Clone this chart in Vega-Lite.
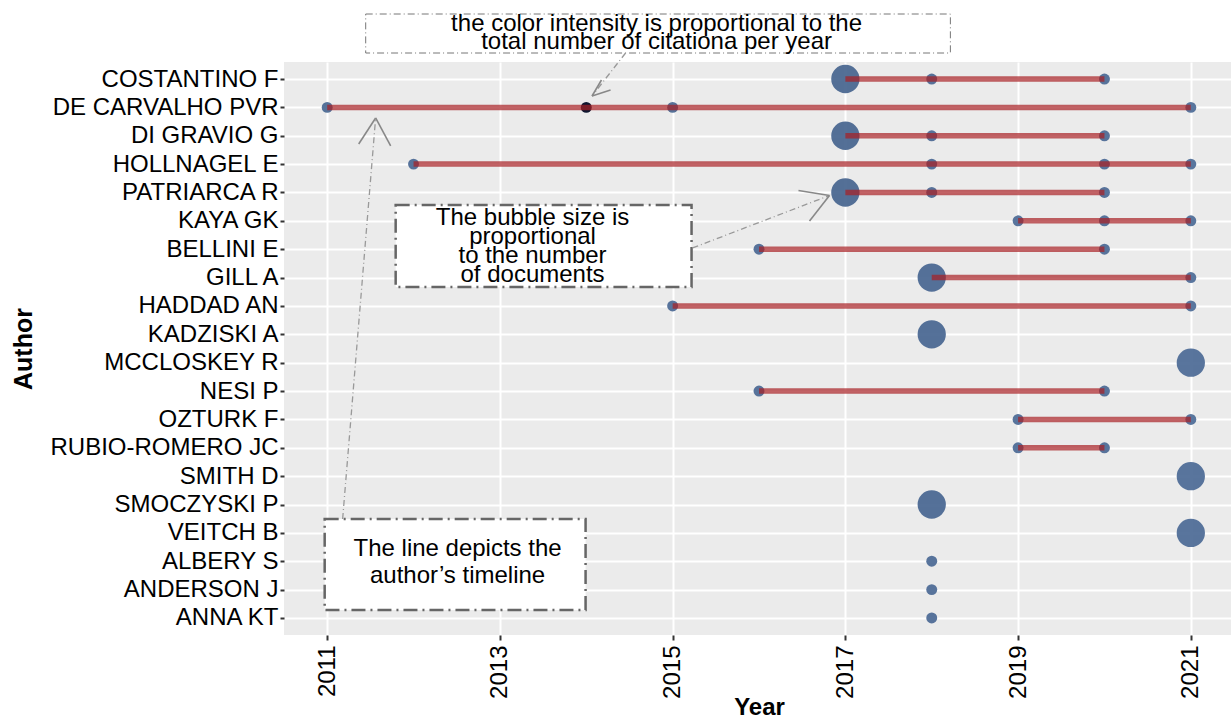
{
  "$schema": "https://vega.github.io/schema/vega-lite/v6.json",
  "autosize": {"type": "none"},
  "width": 950,
  "height": 573,
  "padding": {"left": 284, "top": 62, "right": 0, "bottom": 86},
  "background": "white",
  "config": {
    "view": {"fill": "#EBEBEB", "stroke": null},
    "font": "Liberation Sans",
    "text": {"font": "Liberation Sans"}
  },
  "datasets": {
    "pubs": [
      {"author": "COSTANTINO F", "year": 2017, "docs": 2, "tcpy": 1.2},
      {"author": "COSTANTINO F", "year": 2018, "docs": 1, "tcpy": 0.6},
      {"author": "COSTANTINO F", "year": 2020, "docs": 1, "tcpy": 0.5},
      {"author": "DE CARVALHO PVR", "year": 2011, "docs": 1, "tcpy": 0.8},
      {"author": "DE CARVALHO PVR", "year": 2014, "docs": 1, "tcpy": 14},
      {"author": "DE CARVALHO PVR", "year": 2015, "docs": 1, "tcpy": 0.9},
      {"author": "DE CARVALHO PVR", "year": 2021, "docs": 1, "tcpy": 0.3},
      {"author": "DI GRAVIO G", "year": 2017, "docs": 2, "tcpy": 1.2},
      {"author": "DI GRAVIO G", "year": 2018, "docs": 1, "tcpy": 0.6},
      {"author": "DI GRAVIO G", "year": 2020, "docs": 1, "tcpy": 0.5},
      {"author": "HOLLNAGEL E", "year": 2012, "docs": 1, "tcpy": 0.7},
      {"author": "HOLLNAGEL E", "year": 2018, "docs": 1, "tcpy": 0.6},
      {"author": "HOLLNAGEL E", "year": 2020, "docs": 1, "tcpy": 0.5},
      {"author": "HOLLNAGEL E", "year": 2021, "docs": 1, "tcpy": 0.3},
      {"author": "PATRIARCA R", "year": 2017, "docs": 2, "tcpy": 1.2},
      {"author": "PATRIARCA R", "year": 2018, "docs": 1, "tcpy": 0.6},
      {"author": "PATRIARCA R", "year": 2020, "docs": 1, "tcpy": 0.5},
      {"author": "KAYA GK", "year": 2019, "docs": 1, "tcpy": 0.4},
      {"author": "KAYA GK", "year": 2020, "docs": 1, "tcpy": 0.5},
      {"author": "KAYA GK", "year": 2021, "docs": 1, "tcpy": 0.3},
      {"author": "BELLINI E", "year": 2016, "docs": 1, "tcpy": 0.6},
      {"author": "BELLINI E", "year": 2020, "docs": 1, "tcpy": 0.5},
      {"author": "GILL A", "year": 2018, "docs": 2, "tcpy": 1.0},
      {"author": "GILL A", "year": 2021, "docs": 1, "tcpy": 0.3},
      {"author": "HADDAD AN", "year": 2015, "docs": 1, "tcpy": 0.5},
      {"author": "HADDAD AN", "year": 2021, "docs": 1, "tcpy": 0.3},
      {"author": "KADZISKI A", "year": 2018, "docs": 2, "tcpy": 1.0},
      {"author": "MCCLOSKEY R", "year": 2021, "docs": 2, "tcpy": 0.4},
      {"author": "NESI P", "year": 2016, "docs": 1, "tcpy": 0.6},
      {"author": "NESI P", "year": 2020, "docs": 1, "tcpy": 0.5},
      {"author": "OZTURK F", "year": 2019, "docs": 1, "tcpy": 0.4},
      {"author": "OZTURK F", "year": 2021, "docs": 1, "tcpy": 0.3},
      {"author": "RUBIO-ROMERO JC", "year": 2019, "docs": 1, "tcpy": 0.4},
      {"author": "RUBIO-ROMERO JC", "year": 2020, "docs": 1, "tcpy": 0.5},
      {"author": "SMITH D", "year": 2021, "docs": 2, "tcpy": 0.4},
      {"author": "SMOCZYSKI P", "year": 2018, "docs": 2, "tcpy": 1.0},
      {"author": "VEITCH B", "year": 2021, "docs": 2, "tcpy": 0.4},
      {"author": "ALBERY S", "year": 2018, "docs": 1, "tcpy": 0.5},
      {"author": "ANDERSON J", "year": 2018, "docs": 1, "tcpy": 0.5},
      {"author": "ANNA KT", "year": 2018, "docs": 1, "tcpy": 0.5}
    ],
    "boxes": [
      {"id": "color", "x1": 2011.446, "x2": 2018.216, "y1": -1.292, "y2": 0.083},
      {"id": "bubble", "x1": 2011.793, "x2": 2015.219, "y1": 5.441, "y2": 8.331},
      {"id": "line", "x1": 2010.971, "x2": 2013.992, "y1": 16.509, "y2": 19.716}
    ],
    "arrows": [
      {"id": "color", "x1": 2014.455, "y1": 0.083, "x2": 2014.067, "y2": 1.598},
      {"id": "bubble", "x1": 2015.230, "y1": 6.956, "x2": 2016.816, "y2": 5.106},
      {"id": "line", "x1": 2011.179, "y1": 16.509, "x2": 2011.561, "y2": 2.374}
    ],
    "heads": [
      {"id": "color", "x1": 2014.281, "y1": 1.387, "x2": 2014.067, "y2": 1.598},
      {"id": "color", "x1": 2014.176, "y1": 1.034, "x2": 2014.067, "y2": 1.598},
      {"id": "bubble", "x1": 2016.457, "y1": 4.929, "x2": 2016.816, "y2": 5.106},
      {"id": "bubble", "x1": 2016.585, "y1": 6.004, "x2": 2016.816, "y2": 5.106},
      {"id": "line", "x1": 2011.365, "y1": 3.290, "x2": 2011.561, "y2": 2.374},
      {"id": "line", "x1": 2011.735, "y1": 3.361, "x2": 2011.561, "y2": 2.374}
    ],
    "notes": [
      {"id": "color", "x": 2014.814, "y": -0.693, "label": "the color intensity is proportional to the\ntotal number of citationa per year"},
      {"id": "bubble", "x": 2013.378, "y": 6.145, "label": "The bubble size is\nproportional\nto the number\nof documents"},
      {"id": "line", "x": 2012.510, "y": 17.813, "label": "The line depicts the\nauthor’s timeline"}
    ]
  },
  "layer": [
    {
      "data": {"name": "pubs"},
      "encoding": {
        "x": {
          "field": "year", "type": "quantitative", "title": "Year",
          "scale": {"domain": [2010.5, 2021.5], "nice": false, "zero": false},
          "axis": {
            "values": [2011, 2013, 2015, 2017, 2019, 2021],
            "format": "d",
            "labelAngle": -90,
            "labelFontSize": 24,
            "labelColor": "black",
            "labelPadding": 5,
            "tickColor": "#333333",
            "tickSize": 5,
            "tickWidth": 2,
            "domain": false,
            "grid": true,
            "gridColor": "white",
            "gridWidth": 2,
            "title": "Year",
            "titleFontSize": 24,
            "titleFontWeight": "bold",
            "titleColor": "black",
            "titlePadding": -3
          }
        },
        "y": {
          "field": "author", "type": "nominal",
          "sort": ["COSTANTINO F", "DE CARVALHO PVR", "DI GRAVIO G", "HOLLNAGEL E", "PATRIARCA R", "KAYA GK", "BELLINI E", "GILL A", "HADDAD AN", "KADZISKI A", "MCCLOSKEY R", "NESI P", "OZTURK F", "RUBIO-ROMERO JC", "SMITH D", "SMOCZYSKI P", "VEITCH B", "ALBERY S", "ANDERSON J", "ANNA KT"],
          "scale": {"type": "point", "padding": 0.6},
          "axis": {
            "labelFontSize": 24,
            "labelColor": "black",
            "labelPadding": 2,
            "labelLimit": 0,
            "tickColor": "#333333",
            "tickSize": 4,
            "tickWidth": 2,
            "domain": false,
            "grid": true,
            "gridColor": "white",
            "gridWidth": 2,
            "title": "Author",
            "titleFontSize": 25,
            "titleFontWeight": "bold",
            "titleColor": "black",
            "titlePadding": 48
          }
        }
      },
      "layer": [
        {
          "mark": {"type": "circle", "opacity": 0.95},
          "encoding": {
            "size": {"field": "docs", "type": "quantitative", "scale": {"domain": [1, 2], "range": [120, 800]}, "legend": null},
            "color": {"field": "tcpy", "type": "quantitative", "scale": {"domain": [0, 14], "range": ["#52719C", "#040C26"]}, "legend": null}
          }
        },
        {
          "mark": {"type": "line", "color": "#a82024", "opacity": 0.7, "strokeWidth": 5.5},
          "encoding": {"detail": {"field": "author", "type": "nominal"}}
        }
      ]
    },
    {
      "layer": [
        {
          "data": {"name": "boxes"},
          "transform": [{"filter": "datum.id === 'color'"}],
          "mark": {"type": "rect", "fill": "white", "stroke": "#777777", "strokeWidth": 1, "strokeDash": [7, 3, 1, 3]},
          "encoding": {
            "x": {"field": "x1", "type": "quantitative", "title": "Year"},
            "x2": {"field": "x2"},
            "y": {"field": "y1", "type": "quantitative", "scale": {"domain": [0.4, 20.6], "reverse": true, "nice": false, "zero": false}, "axis": null},
            "y2": {"field": "y2"}
          }
        },
        {
          "data": {"name": "boxes"},
          "transform": [{"filter": "datum.id !== 'color'"}],
          "mark": {"type": "rect", "fill": "white", "stroke": "#666666", "strokeWidth": 2.5, "strokeDash": [14, 5, 2, 5]},
          "encoding": {
            "x": {"field": "x1", "type": "quantitative", "title": "Year"},
            "x2": {"field": "x2"},
            "y": {"field": "y1", "type": "quantitative", "axis": null},
            "y2": {"field": "y2"}
          }
        },
        {
          "data": {"name": "arrows"},
          "mark": {"type": "rule", "color": "#999999", "strokeWidth": 1.3, "strokeDash": [6, 3, 1, 3]},
          "encoding": {
            "x": {"field": "x1", "type": "quantitative", "title": "Year"},
            "x2": {"field": "x2"},
            "y": {"field": "y1", "type": "quantitative", "axis": null},
            "y2": {"field": "y2"}
          }
        },
        {
          "data": {"name": "heads"},
          "mark": {"type": "rule", "color": "#888888", "strokeWidth": 1.6},
          "encoding": {
            "x": {"field": "x1", "type": "quantitative", "title": "Year"},
            "x2": {"field": "x2"},
            "y": {"field": "y1", "type": "quantitative", "axis": null},
            "y2": {"field": "y2"}
          }
        },
        {
          "data": {"name": "notes"},
          "transform": [{"filter": "datum.id === 'color'"}],
          "mark": {"type": "text", "fontSize": 24, "lineHeight": 18, "align": "center", "baseline": "alphabetic", "lineBreak": "\n", "color": "black"},
          "encoding": {
            "x": {"field": "x", "type": "quantitative", "title": "Year"},
            "y": {"field": "y", "type": "quantitative", "axis": null},
            "text": {"field": "label", "type": "nominal"}
          }
        },
        {
          "data": {"name": "notes"},
          "transform": [{"filter": "datum.id === 'bubble'"}],
          "mark": {"type": "text", "fontSize": 24, "lineHeight": 19, "align": "center", "baseline": "alphabetic", "lineBreak": "\n", "color": "black"},
          "encoding": {
            "x": {"field": "x", "type": "quantitative", "title": "Year"},
            "y": {"field": "y", "type": "quantitative", "axis": null},
            "text": {"field": "label", "type": "nominal"}
          }
        },
        {
          "data": {"name": "notes"},
          "transform": [{"filter": "datum.id === 'line'"}],
          "mark": {"type": "text", "fontSize": 24, "lineHeight": 27, "align": "center", "baseline": "alphabetic", "lineBreak": "\n", "color": "black"},
          "encoding": {
            "x": {"field": "x", "type": "quantitative", "title": "Year"},
            "y": {"field": "y", "type": "quantitative", "axis": null},
            "text": {"field": "label", "type": "nominal"}
          }
        }
      ]
    }
  ],
  "resolve": {"scale": {"y": "independent"}, "axis": {"y": "independent"}}
}
